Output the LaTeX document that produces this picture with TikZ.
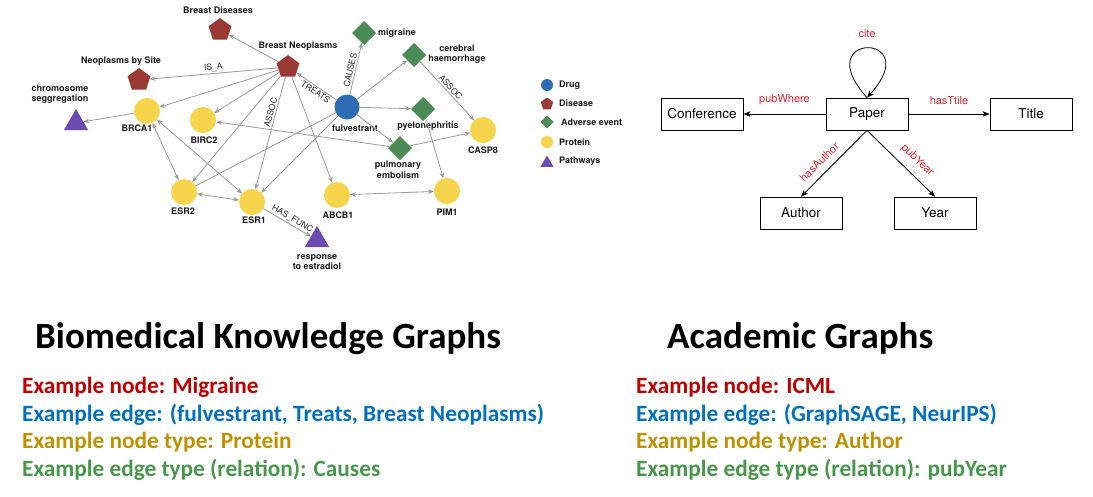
\documentclass[tikz,border=0pt]{standalone}
\usepackage{fontspec}
\setmainfont{Carlito}
\newfontfamily\heros{TeX Gyre Heros}
\usetikzlibrary{arrows.meta,shapes.geometric}

\definecolor{edgec}{HTML}{9A9A9A}
\definecolor{drugc}{HTML}{2E6DB4}
\definecolor{disc}{HTML}{9B3A35}
\definecolor{advc}{HTML}{4B8B55}
\definecolor{protc}{HTML}{F6D44C}
\definecolor{pathc}{HTML}{6B4BAF}
\definecolor{exred}{HTML}{C00000}
\definecolor{exblue}{HTML}{0070C0}
\definecolor{exgold}{HTML}{BF9000}
\definecolor{exgreen}{HTML}{47974A}
\definecolor{acred}{HTML}{E3222B}

\begin{document}
\begin{tikzpicture}[x=1pt,y=-1pt,
  kg/.style={draw=none, inner sep=0pt, outer sep=0pt},
  drug/.style={kg, circle, fill=drugc, minimum size=25pt},
  protein/.style={kg, circle, fill=protc, minimum size=26pt},
  disease/.style={kg, regular polygon, regular polygon sides=5, fill=disc, minimum size=24pt},
  adverse/.style={kg, diamond, fill=advc, minimum width=24pt, minimum height=24pt},
  pathway/.style={kg, regular polygon, regular polygon sides=3, fill=pathc, minimum size=28pt},
  kgname/.style={font=\heros\bfseries\fontsize{9}{10.5}\selectfont, text=black!90, align=center, inner sep=0pt},
  rel/.style={-{Stealth[length=6pt,width=4.5pt]}, draw=edgec, line width=0.8pt},
  birel/.style={{Stealth[length=6pt,width=4.5pt]}-{Stealth[length=6pt,width=4.5pt]}, draw=edgec, line width=0.8pt},
  bareedge/.style={draw=edgec, line width=0.8pt},
  rlab/.style={font=\heros\fontsize{8.5}{10}\selectfont, text=black!85, sloped, inner sep=1.5pt},
  acbox/.style={draw=black, line width=0.8pt, minimum width=82pt, minimum height=32pt, inner sep=0pt,
              font=\heros\fontsize{13.5}{16}\selectfont},
  acarrow/.style={-{Stealth[length=7pt,width=5.5pt,inset=2pt]}, line width=0.8pt},
  aclab/.style={text=acred, font=\heros\fontsize{11}{13}\selectfont, inner sep=0pt},
  headline/.style={anchor=base west, inner sep=0pt, font=\bfseries\fontsize{37}{41}\selectfont},
  example/.style={anchor=base west, inner sep=0pt, font=\bfseries\fontsize{23.3}{27}\selectfont},
]
\useasboundingbox (0,0) rectangle (1093,496);

% ---------------- knowledge graph: nodes ----------------
\node[disease] (bd)    at (220,30)  {};
\node[disease] (nbs)   at (139,80)  {};
\node[disease] (bn)    at (288,67)  {};
\node[pathway] (chr)   at (76,123)  {};
\node[pathway] (resp)  at (317,240) {};
\node[protein] (brca1) at (147,111) {};
\node[protein] (birc2) at (203,120) {};
\node[protein] (esr2)  at (184,192) {};
\node[protein] (esr1)  at (252,202) {};
\node[protein] (abcb1) at (337,195) {};
\node[protein] (pim1)  at (447,191) {};
\node[protein] (casp8) at (483,130) {};
\node[drug]    (fulv)  at (347,107) {};
\node[adverse] (mig)   at (364,33)  {};
\node[adverse] (ceh)   at (414,55)  {};
\node[adverse] (pye)   at (423,109) {};
\node[adverse] (pul)   at (400,148) {};

% ---------------- knowledge graph: names ----------------
\node[kgname] (bd-t)    at (218,10)  {Breast Diseases};
\node[kgname] (nbs-t)   at (121,61)  {Neoplasms by Site};
\node[kgname] (bn-t)    at (298,46)  {Breast Neoplasms};
\node[kgname] (chr-t)   at (60,94)   {chromosome\\seggregation};
\node[kgname] (resp-t)  at (317,262) {response\\to estradiol};
\node[kgname] (brca1-t) at (137,128) {BRCA1};
\node[kgname] (birc2-t) at (204,140) {BIRC2};
\node[kgname] (esr2-t)  at (183,211) {ESR2};
\node[kgname] (esr1-t)  at (254,220) {ESR1};
\node[kgname] (abcb1-t) at (338,215) {ABCB1};
\node[kgname] (pim1-t)  at (447,212) {PIM1};
\node[kgname] (casp8-t) at (483,150) {CASP8};
\node[kgname] (fulv-t)  at (355,128) {fulvestrant};
\node[kgname, anchor=west] (mig-t) at (378,33) {migraine};
\node[kgname] (ceh-t)   at (457,54)  {cerebral\\haemorrhage};
\node[kgname] (pye-t)   at (428,126) {pyelonephritis};
\node[kgname] (pul-t)   at (398,170) {pulmonary\\embolism};

% ---------------- knowledge graph: relations ----------------
\draw[rel] (bn) -- (bd);
\draw[rel] (bn) -- node[rlab, above, pos=0.5] {IS\_A} (nbs);
\draw[rel] (bn) -- (brca1);
\draw[rel] (bn) -- (birc2);
\draw[rel] (bn) -- (esr2);
\draw[rel] (bn) -- node[rlab, above, pos=0.33] {ASSOC} (esr1);
\draw[rel] (bn) -- (abcb1);
\draw[rel] (fulv) -- node[rlab, below, pos=0.45] {TREATS} (bn);
\draw[rel] (fulv) -- node[rlab, above, pos=0.45] {CAUSES} (mig);
\draw[rel] (fulv) -- (ceh);
\draw[rel] (fulv) -- (pye);
\draw[rel] (fulv) -- (pul);
\draw[rel] (fulv) -- (esr1);
\draw[bareedge] (fulv) -- (esr2);
\draw[rel] (ceh) -- node[rlab, above, pos=0.5] {ASSOC} (casp8);
\draw[rel] (pul) -- (casp8);
\draw[rel] (pul) -- (birc2);
\draw[rel] (pye) -- (pim1);
\draw[birel] (abcb1) -- (pim1);
\draw[birel] (esr2) -- (esr1);
\draw[birel] (brca1) -- (esr2);
\draw[birel] (brca1) -- (esr1);
\draw[rel] (brca1) -- (chr);
\draw[rel] (esr1) -- node[rlab, above, pos=0.55] {HAS\_FUNC} (resp);

% ---------------- legend ----------------
\node[kg, circle, fill=drugc, minimum size=12pt] (lg-drug) at (547,85) {};
\node[kg, regular polygon, regular polygon sides=5, fill=disc, minimum size=13pt] (lg-dis) at (547,104) {};
\node[kg, diamond, fill=advc, minimum width=13pt, minimum height=13pt] (lg-adv) at (547,122) {};
\node[kg, circle, fill=protc, minimum size=12pt] (lg-prot) at (547,142) {};
\node[kg, regular polygon, regular polygon sides=3, fill=pathc, minimum size=15pt] (lg-path) at (547,163) {};
\node[kgname, anchor=west] (lg-drug-t) at (559,85)  {Drug};
\node[kgname, anchor=west] (lg-dis-t)  at (559,103) {Disease};
\node[kgname, anchor=west] (lg-adv-t)  at (561,122) {Adverse event};
\node[kgname, anchor=west] (lg-prot-t) at (559,142) {Protein};
\node[kgname, anchor=west] (lg-path-t) at (559,161) {Pathways};

% ---------------- academic graph ----------------
\node[acbox] (paper)  at (867,114) {Paper};
\node[acbox] (conf)   at (702,114) {Conference};
\node[acbox] (title)  at (1031,114) {Title};
\node[acbox] (author) at (801,213) {Author};
\node[acbox] (year)   at (935,213) {Year};

\draw[acarrow] (paper.north) .. controls +(-60,-66) and +(60,-66) .. node[aclab, above=10pt, pos=0.5] {cite} (paper.north);
\draw[acarrow] (paper) -- node[aclab, above=9pt] {pubWhere} (conf);
\draw[acarrow] (paper) -- node[aclab, above=9pt] {hasTtile} (title);
\draw[acarrow] (paper.south) -- node[aclab, sloped, above=7pt, pos=0.6] {hasAuthor} (author.north);
\draw[acarrow] (paper.south) -- node[aclab, sloped, above=8pt, pos=0.6] {pubYear} (year.north);

% ---------------- captions ----------------
\node[headline] (bkg-h) at (35,348) {Biomedical Knowledge Graphs};
\node[example, text=exred]   (bkg-1) at (22,393) {Example node: Migraine};
\node[example, text=exblue]  (bkg-2) at (22,421) {Example edge: (fulvestrant, Treats, Breast Neoplasms)};
\node[example, text=exgold]  (bkg-3) at (22,448) {Example node type: Protein};
\node[example, text=exgreen] (bkg-4) at (22,476) {Example edge type (relation): Causes};

\node[headline] (ac-h) at (667,348) {Academic Graphs};
\node[example, text=exred]   (ac-1) at (636,393) {Example node: ICML};
\node[example, text=exblue]  (ac-2) at (636,421) {Example edge: (GraphSAGE, NeurIPS)};
\node[example, text=exgold]  (ac-3) at (636,448) {Example node type: Author};
\node[example, text=exgreen] (ac-4) at (636,476) {Example edge type (relation): pubYear};
\end{tikzpicture}
\end{document}
